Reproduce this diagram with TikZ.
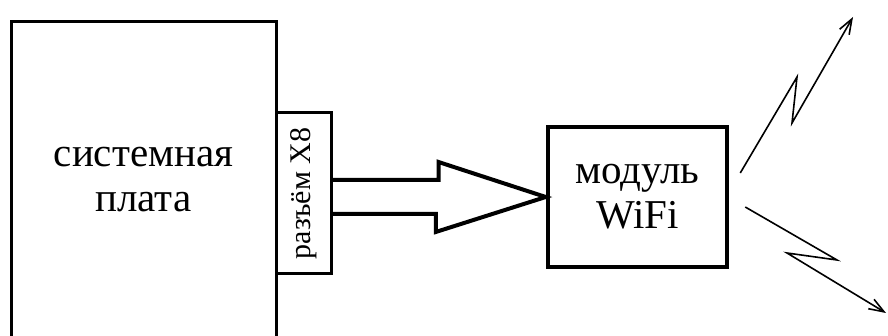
\documentclass[tikz,border=0pt]{standalone}
\usepackage{fontspec}
\setmainfont{Liberation Serif}
\usetikzlibrary{calc,arrows.meta}

\tikzset{
  unit/.style={draw, line width=3pt, align=center, inner sep=0pt,
    font=\fontsize{41}{45}\selectfont},
  bus/.style={draw, line width=4pt, miter limit=20},
  bolt/.style={line width=1.6pt, -{Straight Barb[length=15pt,width=11pt]}}
}

\begin{document}
\begin{tikzpicture}[x=1pt,y=-1pt]
\useasboundingbox (0,0) rectangle (888,336);

\node[unit, minimum width=265pt, minimum height=316pt] (board) at (143.5,180) {системная\\плата};
\node[unit, minimum width=55pt, minimum height=161pt] (x8) at (303.5,193.5) {};
\node[rotate=90, font=\fontsize{30}{34}\selectfont] (x8text) at (x8.center) {разъём X8};
\node[unit, line width=4.5pt, minimum width=179pt, minimum height=140pt] (wifi) at (637.5,197) {модуль\\WiFi};

\draw[bus] ($(x8.east |- wifi.west)+(0,-17)$) -- ++(106,0) -- ++(0,-18) -- (wifi.west)
  -- ++(-110,35) -- ++(0,-18) -- ($(x8.east |- wifi.west)+(0,17)$);

\coordinate (up) at ($(wifi.east)+(11,-24)$);
\coordinate (dn) at ($(wifi.east)+(16,10)$);
\coordinate (upend) at (853,17);
\coordinate (dnend) at (886,313);
\draw[bolt] (up) -- (797,77) -- (792,123) -- (upend);
\draw[bolt] (dn) -- (837,260) -- (787,253) -- (dnend);

\end{tikzpicture}
\end{document}
